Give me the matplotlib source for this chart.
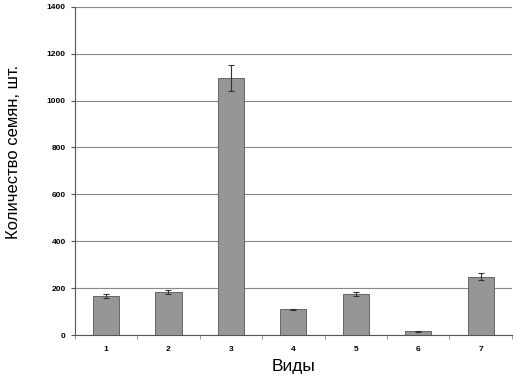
import matplotlib
matplotlib.use("Agg")
import matplotlib.pyplot as plt
import numpy as np

categories = ["1", "2", "3", "4", "5", "6", "7"]
values = [166, 185, 1095, 109, 175, 16, 249]
errors = [8, 9, 55, 3, 8, 1, 14]
yticks = [0, 200, 400, 600, 800, 1000, 1200, 1400]

plt.rcParams['font.family'] = ['Liberation Sans', 'DejaVu Sans']

fig = plt.figure(figsize=(5.16, 3.79), dpi=100)
ax = fig.add_axes([0.145, 0.116, 0.847, 0.866])

x = np.arange(len(categories))
ax.bar(x, values, width=0.42, color='#969696', edgecolor='#555555', linewidth=0.6, zorder=3,
       yerr=errors, error_kw=dict(ecolor='#333333', elinewidth=0.8, capsize=2.5, capthick=0.8))

ax.set_xlim(-0.5, len(categories) - 0.5)
ax.set_ylim(0, 1400)
ax.set_yticks(yticks)
ax.set_yticklabels([str(t) for t in yticks], fontsize=6, fontweight='bold')
ax.yaxis.grid(True, color='#888888', linewidth=0.8, zorder=0)
ax.set_xticks(x)
ax.set_xticklabels(categories, fontsize=6, fontweight='bold')
ax.tick_params(axis='x', length=0, pad=8)
ax.set_xticks(np.arange(-0.5, len(categories), 1.0), minor=True)
ax.tick_params(axis='x', which='minor', length=3, color='#888888')
ax.tick_params(axis='y', length=3, color='#555555')

for s in ['top', 'right']:
    ax.spines[s].set_visible(False)
ax.spines['left'].set_color('#555555')
ax.spines['bottom'].set_color('#555555')

ax.set_xlabel("Виды", fontsize=12.5, labelpad=4)
fig.text(14 / 516, 1 - 152 / 379, "Количество семян, шт.", fontsize=12,
         rotation=90, ha='center', va='center')

fig.savefig("out.png", dpi=100)
